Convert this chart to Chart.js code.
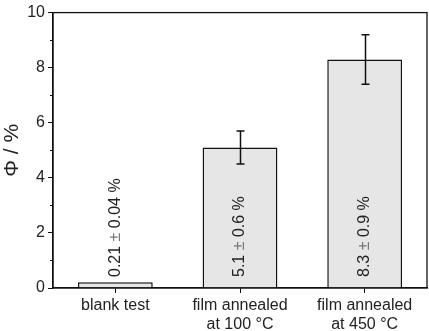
<!DOCTYPE html>
<html>
<head>
<meta charset="utf-8">
<script src="https://cdn.jsdelivr.net/npm/chart.js@4.4.0/dist/chart.umd.min.js"></script>
<style>
  html, body { margin: 0; padding: 0; background: #fff; }
  #wrap { width: 429px; height: 331px; }
</style>
</head>
<body>
<div id="wrap"><canvas id="chart" width="429" height="331"></canvas></div>
<script>
"use strict"

var categories = [["blank test"], ["film annealed", "at 100 °C"], ["film annealed", "at 450 °C"]];
var phi_values = [0.21, 5.1, 8.3];
var phi_errors = [0.04, 0.6, 0.9];
var value_labels = [["0.21", "0.04"], ["5.1", "0.6"], ["8.3", "0.9"]];
var minor_ticks = [1, 3, 5, 7, 9];

var FONT = "'Liberation Sans', Arial, sans-serif";

// frame, minor ticks, error bars and the rotated value labels
var extras = {
    id: "extras",
    afterDatasetsDraw: function (chart) {
        var ctx = chart.ctx;
        var area = chart.chartArea;
        var xs = chart.scales.x;
        var ys = chart.scales.y;
        ctx.save();

        // box round the plot
        ctx.strokeStyle = "#111";
        ctx.lineWidth = 1.3;
        ctx.strokeRect(area.left, area.top, area.right - area.left, area.bottom - area.top);

        // minor ticks on the y axis
        ctx.lineWidth = 1;
        for (var m = 0; m < minor_ticks.length; m++) {
            var py = Math.round(ys.getPixelForValue(minor_ticks[m])) + 0.5;
            ctx.beginPath();
            ctx.moveTo(area.left - 3, py);
            ctx.lineTo(area.left, py);
            ctx.stroke();
        }

        // error bars (too small ones vanish in the bar outline)
        ctx.lineWidth = 1.5;
        for (var i = 0; i < phi_values.length; i++) {
            var cx = Math.round(xs.getPixelForValue(i)) + 0.5;
            var top = ys.getPixelForValue(phi_values[i] + phi_errors[i]);
            var bot = ys.getPixelForValue(phi_values[i] - phi_errors[i]);
            if (bot - top < 4) continue;
            ctx.beginPath();
            ctx.moveTo(cx, top);
            ctx.lineTo(cx, bot);
            ctx.moveTo(cx - 4, top);
            ctx.lineTo(cx + 4, top);
            ctx.moveTo(cx - 4, bot);
            ctx.lineTo(cx + 4, bot);
            ctx.stroke();
        }

        // value labels, written upward from near the axis
        ctx.font = "16px " + FONT;
        ctx.textBaseline = "middle";
        ctx.textAlign = "left";
        for (var j = 0; j < value_labels.length; j++) {
            var lx = xs.getPixelForValue(j);
            var ly = ys.getPixelForValue(0) - 11;
            var parts = [
                [value_labels[j][0] + " ", "#222"],
                ["\u00b1", "#777"],
                [" " + value_labels[j][1] + " %", "#222"]
            ];
            ctx.save();
            ctx.translate(lx, ly);
            ctx.rotate(-Math.PI / 2);
            var off = 0;
            for (var p = 0; p < parts.length; p++) {
                ctx.fillStyle = parts[p][1];
                ctx.fillText(parts[p][0], off, 0);
                off += ctx.measureText(parts[p][0]).width;
            }
            ctx.restore();
        }
        ctx.restore();
    }
};

var barData = {
    labels: categories,
    datasets: [{
        data: phi_values,
        backgroundColor: "#e6e6e6",
        borderColor: "#111",
        borderWidth: 1.5,
        categoryPercentage: 1.0,
        barPercentage: 0.6
    }]
};

var barOption = {
    responsive: false,
    animation: false,
    layout: { padding: { top: 8, right: 2, left: 0, bottom: 0 } },
    plugins: { legend: { display: false }, tooltip: { enabled: false } },
    scales: {
        x: {
            offset: true,
            grid: { offset: false, drawOnChartArea: false, drawTicks: true, tickLength: 5, color: "#111", tickWidth: 1 },
            border: { display: true, color: "#111", width: 1.3 },
            ticks: { color: "#222", font: { family: FONT, size: 16 }, padding: 3, maxRotation: 0, autoSkip: false },
            afterFit: function (s) { s.height = 43; }
        },
        y: {
            min: 0,
            max: 10,
            grid: { drawOnChartArea: false, drawTicks: true, tickLength: 5, color: "#111", tickWidth: 1 },
            border: { display: true, color: "#111", width: 1.3 },
            ticks: { stepSize: 2, color: "#222", font: { family: FONT, size: 16 }, padding: 3 },
            title: { display: true, text: "\u03a6 / %", color: "#222", font: { family: FONT, size: 21 }, padding: { top: 0, bottom: 0 } },
            afterFit: function (s) { s.width = 53; }
        }
    }
};

var barChart = new Chart(document.getElementById("chart").getContext("2d"), {
    type: "bar",
    data: barData,
    options: barOption,
    plugins: [extras]
});
</script>
</body>
</html>
